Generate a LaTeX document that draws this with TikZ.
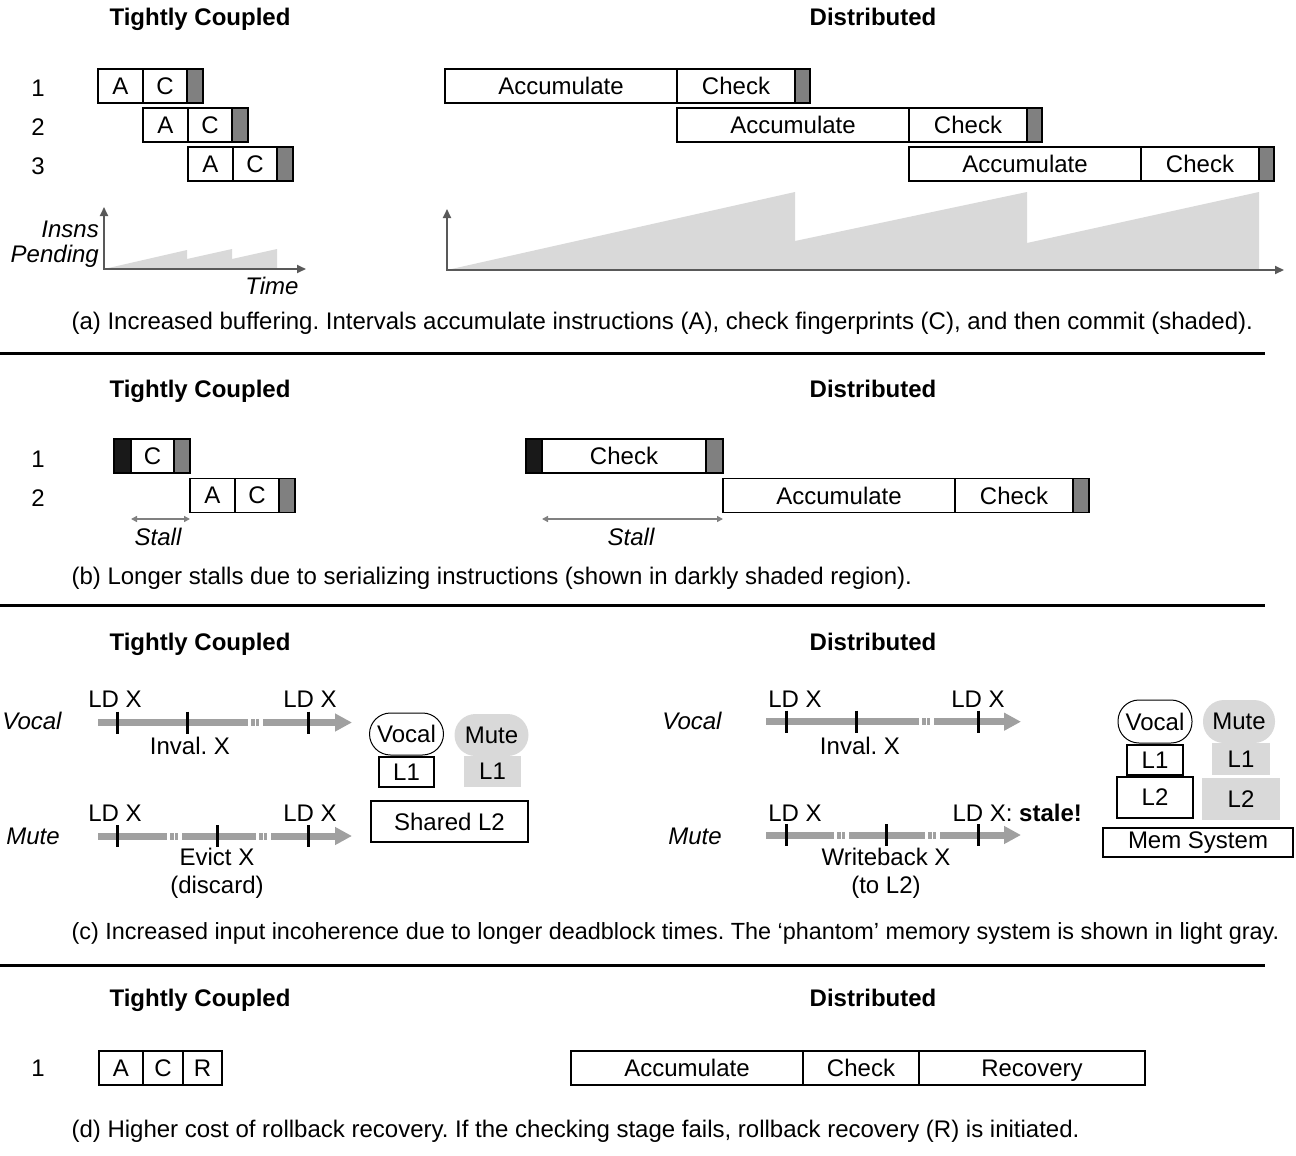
\documentclass[tikz,border=0pt]{standalone}
\usepackage{fontspec}
\setmainfont{Liberation Sans}
\usetikzlibrary{arrows.meta,positioning}
\definecolor{commitgray}{HTML}{808080}
\definecolor{rampgray}{HTML}{D9D9D9}
\definecolor{axisgray}{HTML}{595959}
\definecolor{flowgray}{HTML}{A0A0A0}
\newcommand\figfont{\fontsize{24}{28}\selectfont\frenchspacing}
% white gaps that break a flow arrow
\newcommand\flowbreak[2]{%
  \fill[white] (#1,#2-5) rectangle +(3.4,10);
  \fill[white] (#1+6.7,#2-5) rectangle +(1.7,10);
  \fill[white] (#1+11,#2-5) rectangle +(4,10);
}
\begin{document}
\begin{tikzpicture}[
    x = 1pt,
    y = -1pt,
    font = \figfont,
    cell/.style = {draw, line width=1.6pt, minimum height=34pt, inner sep=0pt,
      outer sep=0pt, anchor=west, text depth=0pt},
    commit/.style = {cell, fill=commitgray, minimum width=16pt},
    serial/.style = {cell, fill=black!90, minimum width=17pt},
    title/.style = {font=\figfont\bfseries, text depth=0pt},
    ital/.style = {font=\figfont\itshape, text depth=0pt, inner sep=1pt},
    caption/.style = {anchor=west},
    ramp/.style = {fill=rampgray},
    axis/.style = {draw=axisgray, line width=2pt,
      {Triangle[length=9pt,width=8pt]}-{Triangle[length=9pt,width=8pt]}},
    stall/.style = {draw=commitgray, line width=1.5pt,
      {Triangle[length=6pt,width=6pt]}-{Triangle[length=6pt,width=6pt]}},
    flow/.style = {draw=flowgray, line width=7pt, -{Triangle[length=17pt,width=17pt]}},
    tick/.style = {line width=3pt},
    mem/.style = {draw, line width=1.6pt, minimum width=#1, minimum height=30pt,
      inner sep=0pt},
    ghost/.style = {fill=rampgray, minimum width=#1, minimum height=31pt, inner sep=0pt},
    core/.style = {draw, line width=1pt, rounded corners=21pt, minimum width=74pt,
      minimum height=42pt, inner sep=0pt},
    ghostcore/.style = {core, draw=none, fill=rampgray},
    sep/.style = {line width=3pt},
    ]
    \useasboundingbox (0,0) rectangle (1296,1156);
    % (a) increased buffering
    \node[title] (aTitleT) at (200,17) {Tightly Coupled};
    \node[title] (aTitleD) at (873,17) {Distributed};
    \foreach \r/\xt/\xd/\y in {1/98/445/86, 2/143/677/125, 3/188/909/164} {
      \node (aRow\r) at (38,\y+2) {\r};
      \node[cell, minimum width=45pt] (aTA\r) at (\xt,\y) {A};
      \node[cell, minimum width=44pt] (aTC\r) at (aTA\r.east) {C};
      \node[commit] (aTK\r) at (aTC\r.east) {};
      \node[cell, minimum width=232pt] (aDA\r) at (\xd,\y) {Accumulate};
      \node[cell, minimum width=118pt] (aDC\r) at (aDA\r.east) {Check};
      \node[commit, minimum width=15pt] (aDK\r) at (aDC\r.east) {};
    }
    % pending instructions
    \fill[ramp] (104,269) -- (187,250) -- (187,259) -- (232,249) -- (232,259)
      -- (277,249) -- (277,269) -- cycle;
    \draw[axis] (104,207) |- (306,269);
    \node[ital, anchor=east] (aInsns) at (100,229) {Insns};
    \node[ital, anchor=east] (aPending) at (100,254) {Pending};
    \node[ital] (aTime) at (272,286) {Time};
    \fill[ramp] (447,270) -- (795,192) -- (795,241) -- (1027,192) -- (1027,243)
      -- (1259,192) -- (1259,270) -- cycle;
    \draw[axis] (447,209) |- (1284,270);
    \node[caption] (aCap) at (68,323) {(a) Increased buffering. Intervals accumulate
      instructions (A), check fingerprints (C), and then commit (shaded).};
    \draw[sep] (0,353) -- (1265,353);
    % (b) longer stalls
    \node[title] (bTitleT) at (200,389) {Tightly Coupled};
    \node[title] (bTitleD) at (873,389) {Distributed};
    \node (bRow1) at (38,459) {1};
    \node (bRow2) at (38,498) {2};
    \node[serial] (bTS1) at (114,456) {};
    \node[cell, minimum width=43pt] (bTC1) at (bTS1.east) {C};
    \node[commit] (bTK1) at (bTC1.east) {};
    \node[cell, minimum width=45pt] (bTA2) at (bTK1.east |- 0,495.5) {A};
    \node[cell, minimum width=44pt] (bTC2) at (bTA2.east) {C};
    \node[commit] (bTK2) at (bTC2.east) {};
    \node[serial, minimum width=16pt] (bDS1) at (526,456) {};
    \node[cell, minimum width=164pt] (bDC1) at (bDS1.east) {Check};
    \node[commit, minimum width=17pt] (bDK1) at (bDC1.east) {};
    \node[cell, minimum width=232pt] (bDA2) at (bDK1.east |- 0,495.5) {Accumulate};
    \node[cell, minimum width=118pt] (bDC2) at (bDA2.east) {Check};
    \node[commit] (bDK2) at (bDC2.east) {};
    \coordinate (bStallY) at (0,519);
    \draw[stall] (bTS1.east |- bStallY) -- (bTA2.west |- bStallY);
    \node[ital] (bStallT) at (158,537) {Stall};
    \draw[stall] (bDS1.east |- bStallY) -- (bDA2.west |- bStallY);
    \node[ital] (bStallD) at (631,537) {Stall};
    \node[caption] (bCap) at (68,578) {(b) Longer stalls due to serializing
      instructions (shown in darkly shaded region).};
    \draw[sep] (0,605) -- (1265,605);
    % (c) input incoherence
    \node[title] (cTitleT) at (200,642) {Tightly Coupled};
    \node[title] (cTitleD) at (873,642) {Distributed};
    % tightly coupled timelines
    \node[ital] (cVocalT) at (32,721) {Vocal};
    \node[ital] (cMuteT) at (33,836) {Mute};
    \draw[flow] (98,722.5) -- (352,722.5);
    \flowbreak{248}{722.5}
    \foreach \x in {117, 187, 308}
    \draw[tick] (\x,711.5) -- (\x,733.5);
    \node (cLdT1) at (115,699) {LD X};
    \node (cLdT2) at (310,699) {LD X};
    \node (cInvT) at (190,746) {Inval. X};
    \draw[flow] (98,836) -- (352,836);
    \flowbreak{167}{836}
    \flowbreak{256}{836}
    \foreach \x in {117, 217, 308}
    \draw[tick] (\x,825) -- (\x,847);
    \node (cLdT3) at (115,813) {LD X};
    \node (cLdT4) at (310,813) {LD X};
    \node[align=center] (cEvict) at (217,873.5) {Evict X\\(discard)};
    % tightly coupled memory
    \node[core] (cVocalL) at (406.5,734) {Vocal};
    \node[ghostcore] (cMuteL) at (491.5,735) {Mute};
    \node[mem=55pt] (cL1V) at (406.5,772) {L1};
    \node[ghost=57pt] (cL1M) at (492.5,771.5) {L1};
    \node[mem=157pt, minimum height=41pt] (cL2) at (449.5,821.5) {Shared L2};
    % distributed timelines
    \node[ital] (cVocalD) at (692,721) {Vocal};
    \node[ital] (cMuteD) at (695,836) {Mute};
    \draw[flow] (766,721.7) -- (1021,721.7);
    \flowbreak{919}{721.7}
    \foreach \x in {786, 856, 978}
    \draw[tick] (\x,710.7) -- (\x,732.7);
    \node (cLdD1) at (795,699) {LD X};
    \node (cLdD2) at (978,699) {LD X};
    \node (cInvD) at (860,746) {Inval. X};
    \draw[flow] (766,835) -- (1021,835);
    \flowbreak{834}{835}
    \flowbreak{925}{835}
    \foreach \x in {786, 886, 978}
    \draw[tick] (\x,824) -- (\x,846);
    \node (cLdD3) at (795,813) {LD X};
    \node[anchor=west] (cStale) at (949,813) {LD X: \textbf{stale!}};
    \node[align=center] (cWb) at (886,873.5) {Writeback X\\(to L2)};
    % distributed memory
    \node[core, minimum height=43pt] (cVocalR) at (1155,721.5) {Vocal};
    \node[ghostcore, minimum width=72pt, minimum height=43pt] (cMuteR) at (1239,721.5) {Mute};
    \node[mem=56pt] (cL1VR) at (1155,760) {L1};
    \node[ghost=58pt, minimum height=32pt] (cL1MR) at (1241,759) {L1};
    \node[mem=76pt, minimum height=41pt] (cL2VR) at (1155,797.5) {L2};
    \node[ghost=78pt, minimum height=42pt] (cL2MR) at (1241,799) {L2};
    \node[mem=190pt, minimum height=29pt] (cMem) at (1198,842.5) {Mem System};
    \node[caption, font=\fontsize{23.4}{28}\selectfont\frenchspacing] (cCap) at (68,933)
      {(c) Increased input incoherence due to longer deadblock times. The ‘phantom’
      memory system is shown in light gray.};
    \draw[sep] (0,965) -- (1265,965);
    % (d) rollback recovery
    \node[title] (dTitleT) at (200,998) {Tightly Coupled};
    \node[title] (dTitleD) at (873,998) {Distributed};
    \node (dRow1) at (38,1068) {1};
    \node[cell, minimum width=44pt] (dTA) at (99,1068) {A};
    \node[cell, minimum width=40pt] (dTC) at (dTA.east) {C};
    \node[cell, minimum width=39pt] (dTR) at (dTC.east) {R};
    \node[cell, minimum width=232pt] (dDA) at (571,1068) {Accumulate};
    \node[cell, minimum width=116pt] (dDC) at (dDA.east) {Check};
    \node[cell, minimum width=226pt] (dDR) at (dDC.east) {Recovery};
    \node[caption] (dCap) at (68,1131) {(d) Higher cost of rollback recovery. If the
      checking stage fails, rollback recovery (R) is initiated.};
  \end{tikzpicture}
\end{document}
